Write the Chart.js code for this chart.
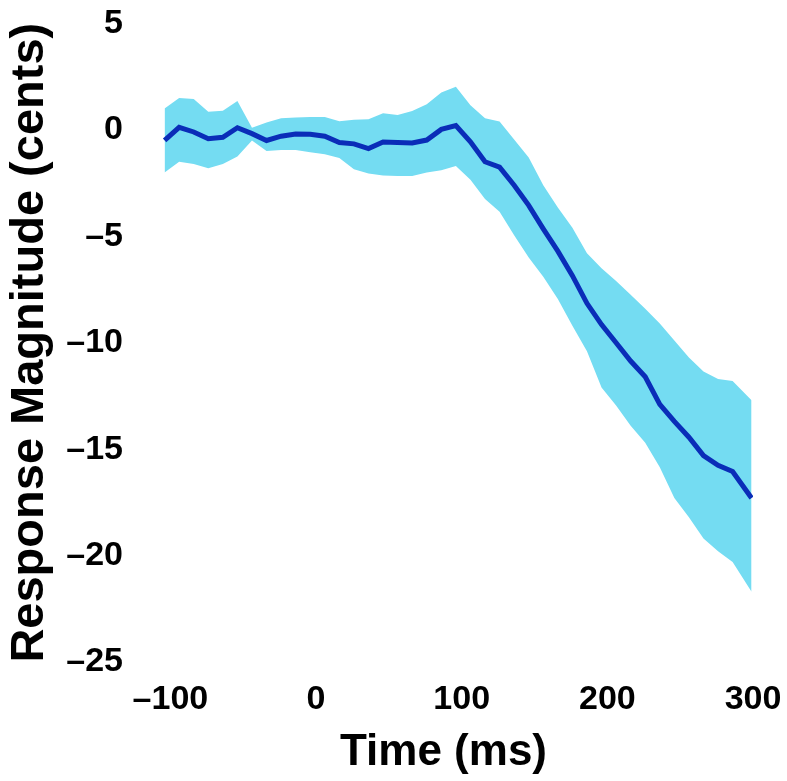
<!DOCTYPE html>
<html>
<head>
<meta charset="utf-8">
<script src="https://cdn.jsdelivr.net/npm/chart.js@4/dist/chart.umd.min.js"></script>
<style>
  html, body { margin: 0; padding: 0; background: #fff; }
  #wrap { width: 787px; height: 781px; }
</style>
</head>
<body>
<div id="wrap"><canvas id="responseChart" width="787" height="781"></canvas></div>
<script>
// time points (ms)
const times = [-104, -94, -84, -74, -64, -54, -44, -34, -24, -14, -4, 6, 16, 26, 36, 46, 56, 66, 76, 86,
  96, 106, 116, 126, 136, 146, 156, 166, 176, 186, 196, 206, 216, 226, 236, 246, 256, 266, 276, 286, 299];

// mean response (cents)
const meanResp = [-0.5, 0.12, -0.1, -0.42, -0.35, 0.1, -0.18, -0.5, -0.3, -0.2, -0.21, -0.3, -0.6, -0.66, -0.88, -0.57, -0.6, -0.62, -0.48, 0.02,
  0.2, -0.56, -1.5, -1.75, -2.6, -3.55, -4.65, -5.7, -6.85, -8.15, -9.15, -10.0, -10.86, -11.6, -12.9, -13.7, -14.44, -15.3, -15.76, -16.05, -17.3];

// upper / lower edge of the shaded band
const upperBand = [1.0, 1.5, 1.45, 0.85, 0.9, 1.35, 0.1, 0.35, 0.55, 0.58, 0.6, 0.6, 0.4, 0.47, 0.5, 0.78, 0.7, 0.88, 1.2, 1.75,
  2.02, 1.15, 0.55, 0.39, -0.45, -1.3, -2.6, -3.65, -4.6, -5.8, -6.5, -7.1, -7.75, -8.4, -9.1, -9.9, -10.7, -11.35, -11.7, -11.8, -12.7];
const lowerBand = [-2.0, -1.5, -1.6, -1.8, -1.6, -1.25, -0.5, -1.0, -0.95, -0.95, -1.05, -1.15, -1.32, -1.85, -2.05, -2.15, -2.17, -2.17, -2.0, -1.9,
  -1.7, -2.35, -3.25, -3.85, -4.95, -6.0, -6.9, -7.95, -9.2, -10.4, -12.1, -12.95, -13.9, -14.7, -15.85, -17.3, -18.2, -19.2, -19.8, -20.3, -21.7];

const xTicks = [-100, 0, 100, 200, 300];
const yTicks = [5, 0, -5, -10, -15, -20, -25];

const toPts = arr => arr.map((v, i) => ({ x: times[i], y: v }));
const fmt = v => (v < 0 ? "\u2013" + Math.abs(v) : String(v));

const tickFont = { family: "'Liberation Sans', Arial, sans-serif", size: 34, weight: "bold" };

new Chart(document.getElementById("responseChart"), {
  type: "line",
  data: {
    datasets: [
      {
        data: toPts(meanResp),
        borderColor: "#0a2db8",
        borderWidth: 5,
        pointRadius: 0,
        fill: false
      },
      {
        data: toPts(upperBand),
        borderWidth: 0,
        borderColor: "rgba(0,0,0,0)",
        backgroundColor: "#74dcf2",
        pointRadius: 0,
        fill: "+1"
      },
      {
        data: toPts(lowerBand),
        borderWidth: 0,
        borderColor: "rgba(0,0,0,0)",
        pointRadius: 0,
        fill: false
      }
    ]
  },
  options: {
    responsive: false,
    animation: false,
    layout: { padding: { top: -13, right: 0, bottom: 0, left: 0 } },
    plugins: {
      legend: { display: false },
      tooltip: { enabled: false }
    },
    scales: {
      x: {
        type: "linear",
        min: -125,
        max: 300,
        grid: { display: false },
        border: { display: false },
        afterBuildTicks: s => { s.ticks = xTicks.map(v => ({ value: v })); },
        afterFit: s => { s.height = 119; s.paddingRight = 34; s.paddingLeft = 0; },
        ticks: { color: "#000", font: tickFont, padding: 9, maxRotation: 0, callback: fmt },
        title: {
          display: true,
          text: "Time (ms)",
          color: "#000",
          font: { family: "'Liberation Sans', Arial, sans-serif", size: 44, weight: "bold" },
          padding: 2
        }
      },
      y: {
        min: -25,
        max: 5,
        grid: { display: false },
        border: { display: false },
        afterBuildTicks: s => { s.ticks = yTicks.map(v => ({ value: v })); },
        afterFit: s => { s.width = 134; },
        ticks: { color: "#000", font: tickFont, padding: 3, callback: fmt },
        title: {
          display: true,
          text: "Response Magnitude (cents)",
          color: "#000",
          font: { family: "'Liberation Sans', Arial, sans-serif", size: 47, weight: "bold" },
          padding: 2
        }
      }
    }
  }
});
</script>
</body>
</html>
